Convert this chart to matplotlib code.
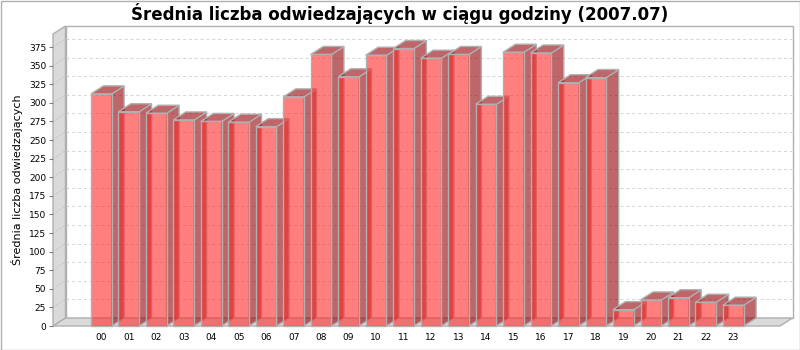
import matplotlib
matplotlib.use("Agg")
import matplotlib.pyplot as plt
from matplotlib.patches import Polygon, Rectangle

plt.rcParams['font.family'] = ['DejaVu Sans']

hours = ['00', '01', '02', '03', '04', '05', '06', '07', '08', '09', '10', '11',
         '12', '13', '14', '15', '16', '17', '18', '19', '20', '21', '22', '23']
visitors = [312, 288, 286, 277, 275, 274, 268, 308, 365, 335, 364, 373,
            360, 365, 298, 368, 367, 327, 334, 22, 35, 38, 32, 28]
y_ticks = list(range(0, 376, 25))

title = 'Średnia liczba odwiedzających w ciągu godziny (2007.07)'
ylabel = 'Średnia liczba odwiedzających'

W, H = 800, 350
fig = plt.figure(figsize=(W / 100, H / 100), dpi=100)
# front plane of the 3d plot, in pixels
left, right, top, bottom = 53, 780, 34, 326
ax = fig.add_axes([left / W, (H - bottom) / H, (right - left) / W, (bottom - top) / H])

x0, x1 = -1.757, 24.70
y0, y1 = 0, 392.5
ax.set_xlim(x0, x1)
ax.set_ylim(y0, y1)
for s in ax.spines.values():
    s.set_visible(False)

# 3d depth in data units
depth_x, depth_y = 12.5, 8
dx = depth_x / (right - left) * (x1 - x0)
dy = depth_y / (bottom - top) * (y1 - y0)

wall_col = '#dadada'
edge_col = '#b0b0b0'

# back wall
ax.add_patch(Rectangle((x0 + dx, dy), x1 - x0, y1, facecolor='white',
                       edgecolor=edge_col, lw=1, clip_on=False, zorder=0.5))
# left wall
ax.add_patch(Polygon([(x0, 0), (x0 + dx, dy), (x0 + dx, y1 + dy), (x0, y1)],
                     closed=True, facecolor=wall_col, edgecolor=edge_col, lw=1,
                     clip_on=False, zorder=1))
# floor
ax.add_patch(Polygon([(x0, 0), (x1, 0), (x1 + dx, dy), (x0 + dx, dy)],
                     closed=True, facecolor=wall_col, edgecolor=edge_col, lw=1,
                     clip_on=False, zorder=1))

# gridlines on the back wall and the left wall
for v in y_ticks[1:]:
    ax.plot([x0 + dx, x1 + dx], [v + dy, v + dy], color='#d4d4d4', lw=0.7,
            ls=(0, (3, 3)), clip_on=False, zorder=1.5)
    ax.plot([x0, x0 + dx], [v, v + dy], color='#c4c4c4', lw=0.7,
            ls=(0, (2, 2)), clip_on=False, zorder=1.5)

# bars
w = 0.753
front_col = (1.0, 0.16, 0.16, 0.6)
dark_col = (0.58, 0.0, 0.02, 0.6)
for i, v in enumerate(visitors):
    xl, xr = i - w / 2, i + w / 2
    z = 2 + i * 0.01
    ax.add_patch(Polygon([(xr, 0), (xr + dx, dy), (xr + dx, v + dy), (xr, v)],
                         closed=True, facecolor=dark_col, edgecolor=edge_col,
                         lw=1, clip_on=False, zorder=z))
    ax.add_patch(Polygon([(xl, v), (xr, v), (xr + dx, v + dy), (xl + dx, v + dy)],
                         closed=True, facecolor=dark_col, edgecolor=edge_col,
                         lw=1, clip_on=False, zorder=z))
    ax.add_patch(Rectangle((xl, 0), w, v, facecolor=front_col,
                           edgecolor=edge_col, lw=1, clip_on=False, zorder=z))

ax.set_yticks(y_ticks)
ax.set_yticklabels([str(t) for t in y_ticks])
ax.tick_params(axis='y', length=3, width=0.8, color='#808080', labelsize=6.5, pad=2)
ax.set_xticks(range(len(hours)))
ax.set_xticklabels(hours)
ax.tick_params(axis='x', length=0, labelsize=6.5, pad=5)

ax.set_ylabel(ylabel, fontsize=8, labelpad=4)
fig.text(0.5, 1 - 13 / H, title, ha='center', va='center', fontsize=12,
         fontweight='bold')

# outer border
fig.patches.append(Rectangle((0.5 / W, 0.5 / H), 1 - 1 / W, 1 - 1 / H,
                             transform=fig.transFigure, fill=False,
                             edgecolor=edge_col, lw=1))

fig.savefig('out.png', dpi=100)
